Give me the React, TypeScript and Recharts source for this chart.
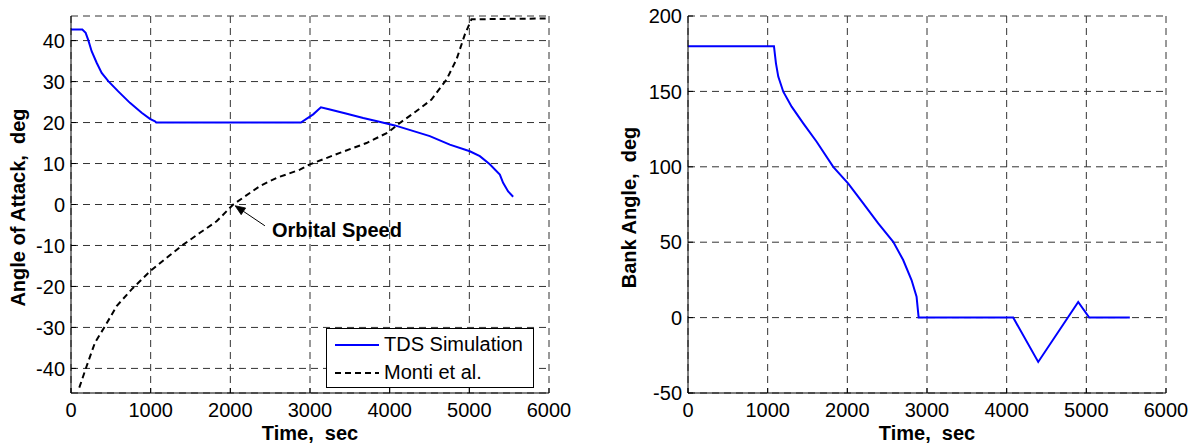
import React from "react";
import {
  CartesianGrid,
  Legend,
  Line,
  LineChart,
  ReferenceLine,
  XAxis,
  YAxis,
} from "recharts";

// left panel: angle of attack
const tdsTime = [0, 142, 184, 217, 259, 322, 385, 468, 593, 740, 887, 991, 1054, 1070, 2886, 3040, 3137, 3250, 3450, 3668, 3870, 4065, 4300, 4504, 4755, 5006, 5132, 5257, 5383, 5424, 5487, 5550];
const tdsAoa = [42.7, 42.7, 41.9, 40.1, 37.4, 34.6, 32.1, 30.1, 27.6, 24.8, 22.4, 20.9, 20.3, 20, 20, 22, 23.7, 23.2, 22.2, 21.1, 20.2, 19.3, 17.9, 16.7, 14.6, 13, 11.8, 9.8, 7.3, 5.3, 3.2, 1.9];
const montiTime = [104, 197, 301, 427, 573, 761, 991, 1200, 1409, 1619, 1828, 2036, 2371, 2581, 2873, 2999, 3375, 3710, 3981, 4128, 4337, 4525, 4714, 4839, 4944, 5027, 6000];
const montiAoa = [-44.7, -39.4, -33.7, -29.7, -24.8, -20.7, -16.3, -13, -9.8, -6.9, -4.1, 0, 4.5, 6.5, 8.5, 9.8, 12.6, 15, 17.6, 19.9, 22.8, 25.6, 30.5, 35.4, 41.5, 45.2, 45.4];
const seriesOrder = ["TDS Simulation", "Monti et al."];

// right panel: bank angle
const bankTime = [0, 1079, 1104, 1133, 1196, 1301, 1447, 1615, 1823, 2012, 2200, 2388, 2576, 2701, 2806, 2869, 2894, 2895, 4082, 4396, 4898, 5036, 5546];
const bankAngle = [180, 180, 168.6, 159.8, 149.8, 139.9, 128.8, 116.6, 100, 88.9, 75.8, 62.5, 50.3, 38.2, 24.9, 13.9, 0.6, 0, 0, -29.4, 10.4, 0, 0];

const timeTicks = [0, 1000, 2000, 3000, 4000, 5000, 6000];
const aoaTicks = [-40, -30, -20, -10, 0, 10, 20, 30, 40];
const bankTicks = [-50, 0, 50, 100, 150, 200];

// annotation arrow (tip, tail) in data units
const noteSegment = [
  { x: 2060, y: -0.3 },
  { x: 2434, y: -5.2 },
];

const toPoints = (t: number[], v: number[]) => t.map((x, i) => ({ t: x, v: v[i] }));

const FONT = "Arial, 'Liberation Sans', Helvetica, sans-serif";
const W = 597;
const H = 445;
const tickStyle = { fill: "#000", fontSize: 20, fontFamily: FONT };
const GRID = "#333";

const axisTitle = (text: string, x: number) => (props: any) => {
  const vb = props.viewBox || {};
  const cy = (vb.y || 0) + (vb.height || 0) / 2 + 3;
  return (
    <text
      x={x}
      y={cy}
      transform={`rotate(-90 ${x} ${cy})`}
      textAnchor="middle"
      dominantBaseline="central"
      fontFamily={FONT}
      fontSize={20}
      fontWeight="bold"
      fill="#000"
    >
      {text}
    </text>
  );
};

const timeTitle = (props: any) => {
  const vb = props.viewBox || {};
  return (
    <text
      x={vb.x + vb.width / 2}
      y={vb.y + 47}
      textAnchor="middle"
      fontFamily={FONT}
      fontSize={20}
      fontWeight="bold"
      fill="#000"
    >
      {"Time,\u00a0\u00a0sec"}
    </text>
  );
};

const ArrowNote = (props: any) => {
  const { x1, y1, x2, y2 } = props;
  const dx = x2 - x1;
  const dy = y2 - y1;
  const len = Math.hypot(dx, dy) || 1;
  const ux = dx / len;
  const uy = dy / len;
  const hl = 10;
  const hw = 4;
  const bx = x1 + ux * hl;
  const by = y1 + uy * hl;
  return (
    <g>
      <line x1={bx} y1={by} x2={x2} y2={y2} stroke="#000" strokeWidth={1} />
      <polygon
        points={`${bx - uy * hw},${by + ux * hw} ${x1},${y1} ${bx + uy * hw},${by - ux * hw}`}
        fill="#000"
        stroke="#000"
        strokeWidth={0.8}
      />
      <text x={x2 + 7} y={y2 + 11} fontFamily={FONT} fontSize={20} fontWeight="bold" fill="#000">
        Orbital Speed
      </text>
    </g>
  );
};

const renderLegend = (props: any) => {
  const items = [...(props.payload || [])].sort(
    (a: any, b: any) => seriesOrder.indexOf(a.value) - seriesOrder.indexOf(b.value)
  );
  return (
    <div
      style={{
        position: "relative",
        width: 208,
        height: 60,
        boxSizing: "border-box",
        border: "1.5px solid #000",
        background: "#fff",
        fontFamily: FONT,
        fontSize: 20,
        color: "#000",
      }}
    >
      {items.map((entry: any, i: number) => (
        <div
          key={i}
          style={{ position: "absolute", left: 0, top: 1.5 + i * 28, height: 28, display: "flex", alignItems: "center", whiteSpace: "nowrap" }}
        >
          <svg width={44} height={4} style={{ marginLeft: 8 }}>
            <line
              x1={0}
              y1={2}
              x2={44}
              y2={2}
              stroke={entry.color}
              strokeWidth={2}
              strokeDasharray={entry.payload && entry.payload.strokeDasharray}
            />
          </svg>
          <span style={{ marginLeft: 5 }}>{entry.value}</span>
        </div>
      ))}
    </div>
  );
};

const AoaChart = () => (
  <LineChart width={W} height={H} margin={{ top: 16, right: 48, bottom: 22, left: 11 }}>
    <CartesianGrid stroke={GRID} strokeDasharray="7 5" />
    <XAxis
      dataKey="t"
      type="number"
      domain={[0, 6000]}
      ticks={timeTicks}
      allowDataOverflow
      interval={0}
      tick={tickStyle}
      tickSize={-5}
      tickMargin={15}
      stroke="#000"
      height={30}
      label={timeTitle}
    />
    <XAxis xAxisId="top" orientation="top" type="number" domain={[0, 6000]} ticks={timeTicks} allowDataOverflow interval={0} tickSize={-5} tickFormatter={() => ""} height={0} stroke="#000" />
    <YAxis
      type="number"
      domain={[-46, 46]}
      ticks={aoaTicks}
      allowDataOverflow
      interval={0}
      tick={tickStyle}
      tickSize={-5}
      tickMargin={11}
      width={60}
      stroke="#000"
      label={axisTitle("Angle of Attack,\u00a0\u00a0deg", 18)}
    />
    <YAxis yAxisId="right" orientation="right" type="number" domain={[-46, 46]} ticks={aoaTicks} allowDataOverflow interval={0} tickSize={-5} tickFormatter={() => ""} width={0} stroke="#000" />
    <Line
      data={toPoints(tdsTime, tdsAoa)}
      dataKey="v"
      name="TDS Simulation"
      type="linear"
      stroke="#0000ff"
      strokeWidth={2}
      dot={false}
      isAnimationActive={false}
    />
    <Line
      data={toPoints(montiTime, montiAoa)}
      dataKey="v"
      name="Monti et al."
      type="linear"
      stroke="#000"
      strokeWidth={2}
      strokeDasharray="6 4"
      dot={false}
      isAnimationActive={false}
    />
    <ReferenceLine segment={noteSegment} shape={ArrowNote} ifOverflow="visible" />
    <Legend
      layout="vertical"
      align="center"
      verticalAlign="middle"
      content={renderLegend}
      wrapperStyle={{ left: 326, top: 328, width: 208, height: 60 }}
    />
  </LineChart>
);

const BankChart = () => (
  <LineChart width={W} height={H} margin={{ top: 16, right: 28, bottom: 22, left: 31 }}>
    <CartesianGrid stroke={GRID} strokeDasharray="7 5" />
    <XAxis
      dataKey="t"
      type="number"
      domain={[0, 6000]}
      ticks={timeTicks}
      allowDataOverflow
      interval={0}
      tick={tickStyle}
      tickSize={-5}
      tickMargin={15}
      stroke="#000"
      height={30}
      label={timeTitle}
    />
    <XAxis xAxisId="top" orientation="top" type="number" domain={[0, 6000]} ticks={timeTicks} allowDataOverflow interval={0} tickSize={-5} tickFormatter={() => ""} height={0} stroke="#000" />
    <YAxis
      type="number"
      domain={[-50, 200]}
      ticks={bankTicks}
      allowDataOverflow
      interval={0}
      tick={tickStyle}
      tickSize={-5}
      tickMargin={11}
      width={60}
      stroke="#000"
      label={axisTitle("Bank Angle,\u00a0\u00a0deg", 32)}
    />
    <YAxis yAxisId="right" orientation="right" type="number" domain={[-50, 200]} ticks={bankTicks} allowDataOverflow interval={0} tickSize={-5} tickFormatter={() => ""} width={0} stroke="#000" />
    <Line
      data={toPoints(bankTime, bankAngle)}
      dataKey="v"
      name="Bank Angle"
      type="linear"
      stroke="#0000ff"
      strokeWidth={2}
      dot={false}
      isAnimationActive={false}
    />
  </LineChart>
);

export default function App() {
  return (
    <div style={{ position: "absolute", left: 0, top: 0, width: 1194, height: 445, background: "#fff" }}>
      <div style={{ position: "absolute", left: 0, top: 0 }}>
        <AoaChart />
      </div>
      <div style={{ position: "absolute", left: W, top: 0 }}>
        <BankChart />
      </div>
    </div>
  );
}
